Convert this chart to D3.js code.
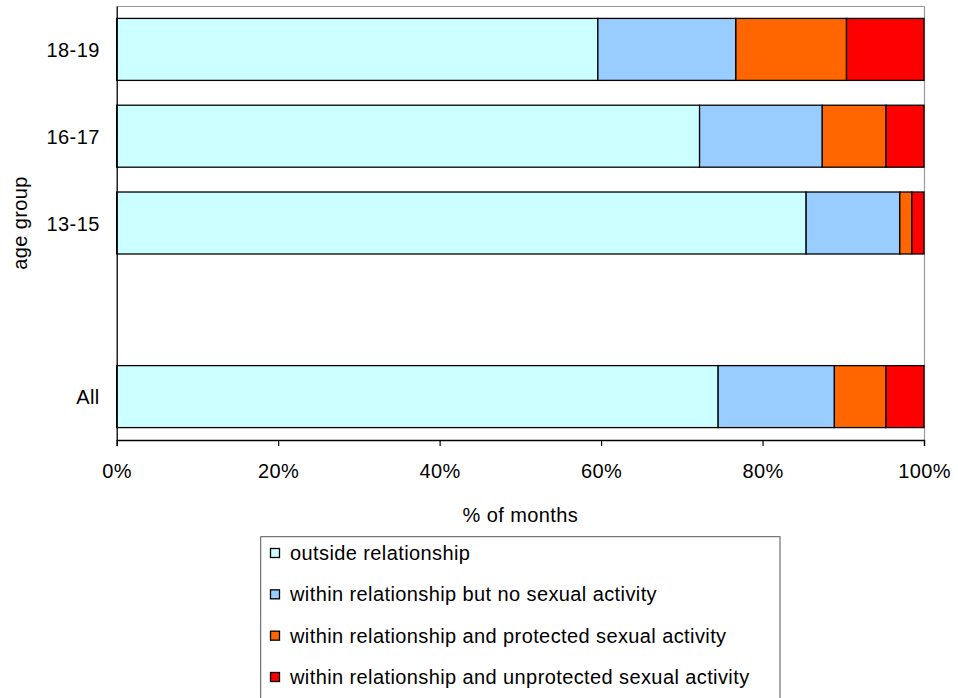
<!DOCTYPE html>
<html><head><meta charset="utf-8">
<script src="https://cdn.jsdelivr.net/npm/d3@7"></script>
<style>body{margin:0;background:#fff}svg{display:block;font-family:"Liberation Sans",Arial,sans-serif}
text{font-size:20px;letter-spacing:0.4px;fill:#000}</style>
</head><body><svg id="c" width="958" height="698"></svg>
<script>
const categories = ["18-19","16-17","13-15"," ","All"];
const seriesNames = ["outside relationship","within relationship but no sexual activity","within relationship and protected sexual activity","within relationship and unprotected sexual activity"];
const outsideRel = [59.6, 72.2, 85.4, null, 74.5];
const withinNoSex = [17.1, 15.2, 11.6, null, 14.4];
const withinProtected = [13.7, 7.9, 1.5, null, 6.4];
const withinUnprotected = [9.6, 4.7, 1.5, null, 4.7];
const xTicks = [0,20,40,60,80,100];
const colors = ["#CCFFFF","#99CCFF","#FF6600","#FF0000"];

const svg = d3.select("#c");
const m = {l:116.7, r:924, t:6, b:440};
const x = d3.scaleLinear().domain([0,100]).range([m.l, m.r]);
const y = d3.scaleBand().domain(categories).range([m.t, m.b]).paddingInner(0.286).paddingOuter(0.143);

const series = [outsideRel, withinNoSex, withinProtected, withinUnprotected];
const rows = categories.map((c,i)=>{const o={cat:c}; series.forEach((s,j)=>o["s"+j]=s[i]); return o;}).filter(r=>r.s0!=null);
const stack = d3.stack().keys(["s0","s1","s2","s3"])(rows);

// plot border (top & right)
svg.append("line").attr("x1",m.l).attr("x2",m.r).attr("y1",m.t+0.5).attr("y2",m.t+0.5).attr("stroke","#9a9a9a").attr("stroke-width",1.2);
svg.append("line").attr("x1",m.r+0.5).attr("x2",m.r+0.5).attr("y1",m.t).attr("y2",m.b).attr("stroke","#9a9a9a").attr("stroke-width",1.2);

stack.forEach((layer,j)=>{
  svg.append("g").selectAll("rect").data(layer).join("rect")
    .attr("x",d=>x(d[0])).attr("width",d=>x(d[1])-x(d[0]))
    .attr("y",d=>y(d.data.cat)).attr("height",y.bandwidth())
    .attr("fill",colors[j]).attr("stroke","#000").attr("stroke-width",1.3);
});

// x axis
const xa = svg.append("g").attr("transform",`translate(0,${m.b})`)
  .call(d3.axisBottom(x).tickValues(xTicks).tickFormat(d=>d+"%").tickSizeOuter(0).tickSize(6));
xa.attr("font-size",null).attr("font-family",null);
xa.select(".domain").attr("stroke","#000").attr("stroke-width",1.3);
xa.selectAll(".tick line").attr("stroke","#000").attr("stroke-width",1.2);
xa.selectAll(".tick text").attr("dy","0").attr("y",38);

// y axis
const ya = svg.append("g").attr("transform",`translate(${m.l},0)`)
  .call(d3.axisLeft(y).tickSize(0).tickPadding(17));
ya.attr("font-size",null).attr("font-family",null);
ya.select(".domain").attr("stroke","#000").attr("stroke-width",1.3);
ya.selectAll(".tick text").attr("dy","0.38em");

svg.append("text").attr("x",(m.l+m.r)/2).attr("y",522).attr("text-anchor","middle").text("% of months");
svg.append("text").attr("transform",`translate(27,${(m.t+m.b)/2}) rotate(-90)`).attr("text-anchor","middle").text("age group");

// legend
const lg = svg.append("g");
lg.append("rect").attr("x",260.7).attr("y",536.7).attr("width",519.3).attr("height",170).attr("fill","#fff").attr("stroke","#555").attr("stroke-width",1);
const ly = d3.scalePoint().domain(seriesNames).range([553,677]);
seriesNames.forEach((n,i)=>{
  lg.append("rect").attr("x",270.5).attr("y",ly(n)-4.5).attr("width",9).attr("height",9).attr("fill",colors[i]).attr("stroke","#000").attr("stroke-width",1.3);
  lg.append("text").attr("x",290).attr("y",ly(n)+7).text(n);
});
</script></body></html>
